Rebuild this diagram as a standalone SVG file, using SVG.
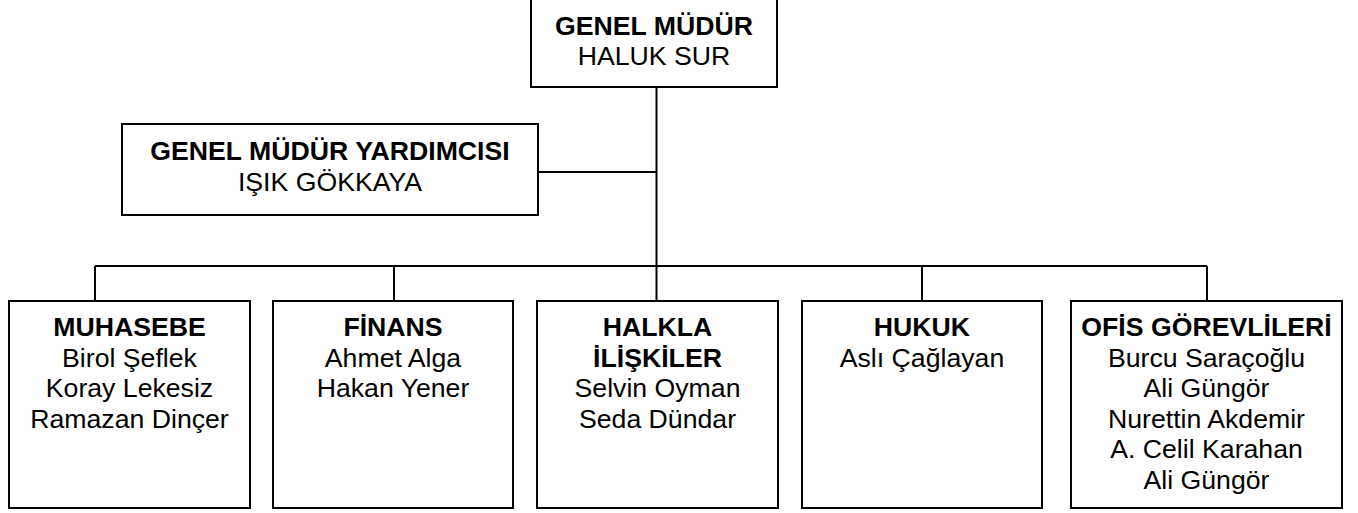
<svg xmlns="http://www.w3.org/2000/svg" width="1358" height="513" viewBox="0 0 1358 513">
<style>
.box{fill:#fff;stroke:#000;stroke-width:2}
.ln{fill:none;stroke:#000;stroke-width:2}
text{font-family:"Liberation Sans",Arial,sans-serif;font-size:26.67px;text-anchor:middle;fill:#000}
.b{font-weight:bold}
</style>
<rect width="1358" height="513" fill="#fff"/>
<g id="connectors">
<path class="ln" d="M656.5,87 V266 M538,172 H656.5 M95,266 H1207 M95,266 V301 M394,266 V301 M656.5,266 V301 M922,266 V301 M1207,266 V301"/>
</g>
<g id="genel-mudur">
<rect class="box" x="531" y="-1" width="246" height="88"/>
<text x="654" y="35" class="b">GENEL MÜDÜR</text>
<text x="654" y="65">HALUK SUR</text>
</g>
<g id="yardimci">
<rect class="box" x="122" y="124" width="416" height="91"/>
<text x="330" y="160" class="b">GENEL MÜDÜR YARDIMCISI</text>
<text x="330" y="191">IŞIK GÖKKAYA</text>
</g>
<g id="muhasebe">
<rect class="box" x="9" y="301" width="241" height="207"/>
<text x="129.5" y="336" class="b">MUHASEBE</text>
<text x="129.5" y="366.6">Birol Şeflek</text>
<text x="129.5" y="397.2">Koray Lekesiz</text>
<text x="129.5" y="427.8">Ramazan Dinçer</text>
</g>
<g id="finans">
<rect class="box" x="273" y="301" width="240" height="207"/>
<text x="393" y="336" class="b">FİNANS</text>
<text x="393" y="366.6">Ahmet Alga</text>
<text x="393" y="397.2">Hakan Yener</text>
</g>
<g id="halkla">
<rect class="box" x="537" y="301" width="241" height="207"/>
<text x="657.5" y="336" class="b">HALKLA</text>
<text x="657.5" y="366.6" class="b">İLİŞKİLER</text>
<text x="657.5" y="397.2">Selvin Oyman</text>
<text x="657.5" y="427.8">Seda Dündar</text>
</g>
<g id="hukuk">
<rect class="box" x="802" y="301" width="240" height="207"/>
<text x="922" y="336" class="b">HUKUK</text>
<text x="922" y="366.6">Aslı Çağlayan</text>
</g>
<g id="ofis">
<rect class="box" x="1071" y="301" width="271" height="207"/>
<text x="1206.5" y="336" class="b">OFİS GÖREVLİLERİ</text>
<text x="1206.5" y="366.6">Burcu Saraçoğlu</text>
<text x="1206.5" y="397.2">Ali Güngör</text>
<text x="1206.5" y="427.8">Nurettin Akdemir</text>
<text x="1206.5" y="458.4">A. Celil Karahan</text>
<text x="1206.5" y="489">Ali Güngör</text>
</g>
</svg>
